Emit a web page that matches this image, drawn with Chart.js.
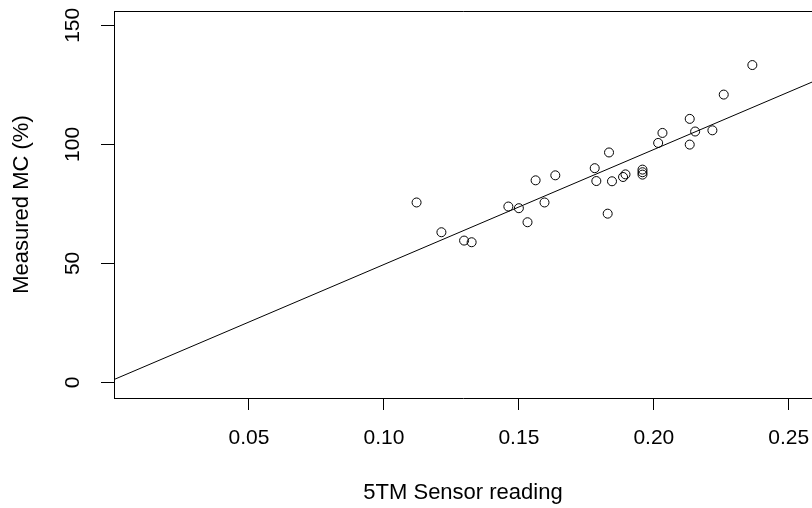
<!DOCTYPE html>
<html>
<head>
<meta charset="utf-8">
<script src="https://cdn.jsdelivr.net/npm/chart.js@4"></script>
<style>
  html, body { margin: 0; padding: 0; background: #fff; overflow: hidden; }
  canvas { display: block; }
</style>
</head>
<body>
<canvas id="myChart" width="812" height="508"></canvas>
<script>
// sensor readings and measured moisture content
const sensorReading = [
	0.1121, 0.1213, 0.1297, 0.1325, 0.1461, 0.1500, 0.1532, 0.1562, 0.1595, 0.1635,
	0.1781, 0.1787, 0.1834, 0.1829, 0.1845, 0.1886, 0.1895, 0.1958, 0.1958, 0.1958,
	0.2016, 0.2032, 0.2133, 0.2133, 0.2153, 0.2217, 0.2259, 0.2365
]
const measuredMC = [
	75.6, 63.1, 59.6, 58.9, 73.9, 73.2, 67.3, 84.9, 75.6, 87.0,
	90.0, 84.6, 96.6, 70.9, 84.5, 86.3, 87.4, 89.4, 88.3, 87.3,
	100.6, 104.8, 99.9, 110.7, 105.4, 105.9, 120.9, 133.3
]

// fitted line (abline)
const fitIntercept = 1.25
const fitSlope = 483

const xTicks = [0.05, 0.10, 0.15, 0.20, 0.25]
const yTicks = [0, 50, 100, 150]

const xRange = [0, 0.2586]
const yRange = [-6.5, 156]

const fontFamily = '"Liberation Sans", Arial, sans-serif'

// top border of the plot box (R draws a full box, right side is cut off)
const boxPlugin = {
	id: 'box',
	afterDraw(chart) {
		const { ctx, chartArea } = chart;
		ctx.save();
		ctx.strokeStyle = '#000';
		ctx.lineWidth = 1;
		ctx.beginPath();
		ctx.moveTo(Math.round(chartArea.left) + 0.5, Math.round(chartArea.top) + 0.5);
		ctx.lineTo(chartArea.right + 2, Math.round(chartArea.top) + 0.5);
		ctx.stroke();
		ctx.restore();
	}
}

const points = sensorReading.map((x, i) => ({ x: x, y: measuredMC[i] }))
const fitLine = xRange.map(x => ({ x: x, y: fitIntercept + fitSlope * x }))

var ctx = document.getElementById('myChart').getContext('2d');
var myChart = new Chart(ctx, {
	type: 'scatter',
	data: {
		datasets: [
			{
				label: 'Measured MC',
				data: points,
				pointStyle: 'circle',
				pointRadius: 4.5,
				pointBorderWidth: 1,
				pointBorderColor: '#000',
				pointBackgroundColor: 'rgba(0,0,0,0)'
			},
			{
				type: 'line',
				label: 'fit',
				data: fitLine,
				borderColor: '#000',
				borderWidth: 1,
				pointRadius: 0,
				fill: false
			}
		]
	},
	options: {
		responsive: false,
		animation: false,
		layout: { autoPadding: false, padding: { top: 11, left: 0, right: 0, bottom: 0 } },
		plugins: {
			legend: { display: false },
			tooltip: { enabled: false }
		},
		scales: {
			x: {
				type: 'linear',
				min: xRange[0],
				max: xRange[1],
				afterBuildTicks: scale => { scale.ticks = xTicks.map(v => ({ value: v })) },
				afterFit: scale => {
					scale.height = 110
					scale.paddingLeft = 0
					scale.paddingRight = 0
				},
				grid: { drawOnChartArea: false, tickLength: 12, color: '#000', lineWidth: 1 },
				border: { color: '#000', width: 1 },
				ticks: {
					color: '#000',
					padding: 16,
					maxRotation: 0,
					font: { family: fontFamily, size: 21 },
					callback: v => Number(v).toFixed(2)
				},
				title: {
					display: true,
					text: '5TM Sensor reading',
					color: '#000',
					font: { family: fontFamily, size: 22 },
					padding: { top: 0, bottom: 2 }
				}
			},
			y: {
				type: 'linear',
				min: yRange[0],
				max: yRange[1],
				afterBuildTicks: scale => { scale.ticks = yTicks.map(v => ({ value: v })) },
				afterFit: scale => {
					scale.width = 114
					scale.paddingTop = 0
					scale.paddingBottom = 0
				},
				grid: { drawOnChartArea: false, tickLength: 13, color: '#000', lineWidth: 1 },
				border: { color: '#000', width: 1 },
				ticks: {
					color: '#000',
					padding: 10,
					minRotation: 90,
					maxRotation: 90,
					crossAlign: 'center',
					font: { family: fontFamily, size: 21 }
				},
				title: {
					display: true,
					text: 'Measured MC (%)',
					color: '#000',
					font: { family: fontFamily, size: 22 },
					padding: { top: 9, bottom: 0 }
				}
			}
		}
	},
	plugins: [boxPlugin]
});
</script>
</body>
</html>
